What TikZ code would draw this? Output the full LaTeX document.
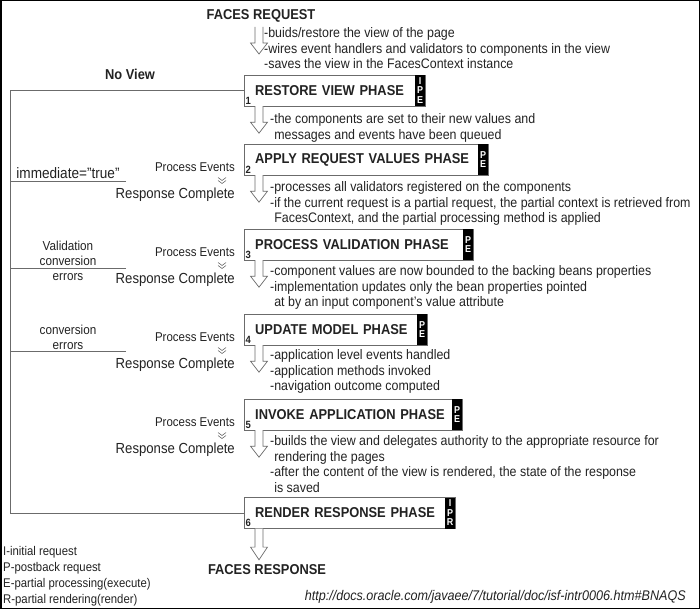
\documentclass[tikz,border=0pt]{standalone}
\usepackage{fontspec}
\setmainfont{Liberation Sans}[FakeStretch=0.9]
\usepackage{tikz}
\definecolor{linegray}{HTML}{6B6B6B}
\definecolor{inkgray}{HTML}{222222}
\def\phasefont{\fontsize{14.3}{17}\selectfont\bfseries}
\def\notefont{\fontsize{13.8}{15.5}\selectfont}
\tikzset{
  blockdown/.pic={\draw[linegray, fill=white, line width=.7] (-4,0) -- (-4,16) -- (-8.5,16) -- (0,27) -- (8.5,16) -- (4,16) -- (4,0);},
  chevrons/.pic={\draw[linegray, line width=.6] (-4,-3) -- (0,0) -- (4,-3) (-4,0) -- (0,3) -- (4,0);}
}

\begin{document}
\begin{tikzpicture}[x=1pt, y=-1pt,
    phasebox/.style={draw=linegray, fill=white, anchor=west, minimum height=31, inner xsep=11, inner ysep=0, align=left, font=\phasefont, text=inkgray},
    tagbox/.style={fill=black, text=white, anchor=north east, minimum width=10, minimum height=31, inner sep=0, align=center, font=\fontsize{10}{9.5}\selectfont\bfseries},
    phasenum/.style={anchor=south west, inner sep=1.5, font=\fontsize{10.5}{10}\selectfont\bfseries, text=inkgray},
    note/.style={anchor=north west, align=left, inner sep=0, font=\notefont, text=inkgray},
    headline/.style={inner sep=0, font=\fontsize{14.3}{17}\selectfont\bfseries, text=inkgray},
    evtsmall/.style={anchor=east, inner sep=0, font=\fontsize{12.75}{14}\selectfont, text=inkgray},
    evtbig/.style={anchor=east, inner sep=0, font=\fontsize{14.6}{16}\selectfont, text=inkgray},
    errlabel/.style={inner sep=0, align=center, font=\fontsize{13}{15.5}\selectfont, text=inkgray},
    loopline/.style={draw=linegray, line width=.7}]
  \useasboundingbox (0,0) rectangle (700,609);
  \draw[black, line width=1.5] (0.75,0.75) rectangle (699.25,608.25);

  % the six phases
  \node[phasebox, text width=159] (rv) at (244,90.5) {RESTORE VIEW PHASE};
  \node[phasebox, text width=222] (ar) at (244,159.5) {APPLY REQUEST VALUES PHASE};
  \node[phasebox, text width=207] (pv) at (244,244.5) {PROCESS VALIDATION PHASE};
  \node[phasebox, text width=161] (um) at (244,329.5) {UPDATE MODEL PHASE};
  \node[phasebox, text width=196] (ia) at (244,414.5) {INVOKE APPLICATION PHASE};
  \node[phasebox, text width=189] (rr) at (244,513) {RENDER RESPONSE PHASE};
  \foreach \b/\tg/\n in {rv/{I\\P\\E}/1, ar/{P\\E}/2, pv/{P\\E}/3, um/{P\\E}/4, ia/{P\\E}/5, rr/{I\\P\\R}/6}{
    \node[tagbox] (\b-tag) at (\b.north east) {\tg};
    \node[phasenum] (\b-num) at (\b.south west) {\n};
  }

  \node[headline] (freq) at (261,16) {FACES REQUEST};
  \node[headline] (fresp) at (267,570) {FACES RESPONSE};
  \node[headline] (noview) at (130,74) {No View};

  % arrows between the phases
  \pic at (259,27) {blockdown};
  \foreach \b in {rv,ar,pv,um,ia}
    \pic at ([shift={(15,0)}]\b.south west) {blockdown};
  \pic[yscale=1.15] at ([shift={(15,0)}]rr.south west) {blockdown};

  \node[note] (req-note) at (264,27.5) {-buids/restore the view of the page\\-wires event handlers and validators to components in the view\\-saves the view in the FacesContext instance};
  \node[note] (rv-note) at (270,113.5) {-the components are set to their new values and\\\hphantom{-}messages and events have been queued};
  \node[note] (ar-note) at (270,181.5) {-processes all validators registered on the components\\-if the current request is a partial request, the partial context is retrieved from\\\hphantom{-}FacesContext, and the partial processing method is applied};
  \node[note] (pv-note) at (270,265.5) {-component values are now bounded to the backing beans properties\\-implementation updates only the bean properties pointed\\\hphantom{-}at by an input component's value attribute};
  \node[note] (um-note) at (270,349.5) {-application level events handled\\-application methods invoked\\-navigation outcome computed};
  \node[note] (ia-note) at (270,435.5) {-builds the view and delegates authority to the appropriate resource for\\\hphantom{-}rendering the pages\\-after the content of the view is rendered, the state of the response\\\hphantom{-}is saved};

  \foreach \b in {ar,pv,um,ia}{
    \node[evtsmall] (\b-pe) at ([shift={(-9,8)}]\b.west) {Process Events};
    \node[evtbig] (\b-rc) at ([shift={(-9,35)}]\b.west) {Response Complete};
    \pic at ([shift={(-22,21)}]\b.west) {chevrons};
  }

  % no view loop and the error branches
  \coordinate (loopcorner) at (10,90.5);
  \draw[loopline] (rv.west) -- (loopcorner) |- (rr.west);
  \node[errlabel, font=\fontsize{15.1}{17}\selectfont] (imm) at (68,173) {immediate="true"};
  \node[errlabel] (valerr) at (68,253.5) {Validation\\conversion};
  \node[errlabel] (valerr2) at (68,277) {errors};
  \node[errlabel] (converr) at (68,337.5) {conversion\\errors};
  \coordinate (imm-end) at (126,181);
  \coordinate (val-end) at (126,268);
  \coordinate (conv-end) at (126,351);
  \foreach \e in {imm-end,val-end,conv-end}
    \draw[loopline] (\e) -- (\e -| loopcorner);

  \node[note, font=\fontsize{12.6}{16}\selectfont] (legend) at (3,546) {I-initial request\\P-postback request\\E-partial processing(execute)\\R-partial rendering(render)};
  \node[anchor=east, inner sep=0, font=\fontsize{14}{15}\selectfont\itshape, text=inkgray] (source) at (686,597) {http://docs.oracle.com/javaee/7/tutorial/doc/isf-intr0006.htm\#BNAQS};
\end{tikzpicture}
\end{document}
